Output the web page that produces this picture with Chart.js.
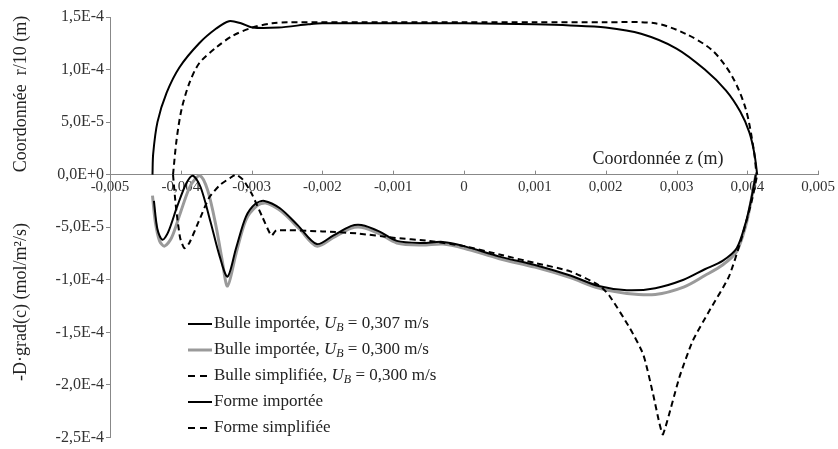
<!DOCTYPE html>
<html>
<head>
<meta charset="utf-8">
<script src="https://cdn.jsdelivr.net/npm/chart.js@4"></script>
<style>
  html, body { margin: 0; background: #fff; }
  #wrap { width: 838px; height: 449px; }
</style>
</head>
<body>
<div id="wrap"><canvas id="chart"></canvas></div>
<script>
// Données (z en m, r/10 en m, flux en mol/m²/s)

// Forme importée (contour de la bulle)
const formeImpZ = [-0.00440, -0.00439, -0.00433, -0.00420, -0.00402, -0.00374, -0.00350, -0.00332, -0.00315, -0.00299, -0.00262, -0.00220, -0.00200, -0.00100, 0, 0.00100, 0.00150, 0.00200, 0.00250, 0.00300, 0.00340, 0.00370, 0.00390, 0.00403, 0.00410, 0.00414];
const formeImpR = [0, 2.0e-5, 5.0e-5, 7.8e-5, 1.02e-4, 1.25e-4, 1.39e-4, 1.46e-4, 1.44e-4, 1.40e-4, 1.40e-4, 1.43e-4, 1.44e-4, 1.44e-4, 1.44e-4, 1.43e-4, 1.42e-4, 1.40e-4, 1.34e-4, 1.20e-4, 1.00e-4, 8.0e-5, 6.0e-5, 4.0e-5, 2.0e-5, 0];

// Forme simplifiée
const formeSimpZ = [-0.00411, -0.00406, -0.00399, -0.00388, -0.00374, -0.00350, -0.00327, -0.00299, -0.00271, -0.00250, -0.00100, 0, 0.00100, 0.00200, 0.00270, 0.00313, 0.00351, 0.00379, 0.00398, 0.00409, 0.00413];
const formeSimpR = [0, 3.3e-5, 6.2e-5, 8.7e-5, 1.06e-4, 1.21e-4, 1.32e-4, 1.40e-4, 1.44e-4, 1.45e-4, 1.45e-4, 1.45e-4, 1.45e-4, 1.45e-4, 1.44e-4, 1.34e-4, 1.18e-4, 9.3e-5, 6.2e-5, 2.4e-5, 0];

// Bulle importée, UB = 0,307 m/s
const bulle307Z = [-0.00438, -0.00433, -0.00426, -0.00418, -0.00405, -0.00392, -0.00383, -0.00372, -0.00358, -0.00345, -0.00334, -0.00322, -0.00308, -0.00295, -0.00282, -0.00260, -0.00235, -0.00208, -0.00185, -0.00160, -0.00145, -0.00120, -0.00095, -0.00060, -0.00030, 0, 0.00050, 0.00100, 0.00150, 0.00190, 0.00230, 0.00270, 0.00310, 0.00340, 0.00365, 0.00385, 0.00398, 0.00405, 0.00412];
const bulle307F = [-2.5e-5, -5.2e-5, -6.2e-5, -5.5e-5, -3.0e-5, -8e-6, -1e-6, -1.2e-5, -4.5e-5, -7.8e-5, -9.7e-5, -7.0e-5, -4.0e-5, -2.8e-5, -2.5e-5, -3.2e-5, -4.8e-5, -6.6e-5, -5.8e-5, -4.9e-5, -4.8e-5, -5.4e-5, -6.3e-5, -6.5e-5, -6.4e-5, -6.8e-5, -7.8e-5, -8.6e-5, -9.6e-5, -1.06e-4, -1.10e-4, -1.08e-4, -1.00e-4, -9.0e-5, -8.2e-5, -7.0e-5, -4.5e-5, -2.5e-5, 0];

// Bulle importée, UB = 0,300 m/s
const bulle300Z = [-0.00440, -0.00436, -0.00430, -0.00423, -0.00413, -0.00400, -0.00386, -0.00373, -0.00362, -0.00350, -0.00342, -0.00334, -0.00322, -0.00308, -0.00293, -0.00280, -0.00258, -0.00232, -0.00208, -0.00185, -0.00160, -0.00145, -0.00120, -0.00095, -0.00060, -0.00030, 0, 0.00050, 0.00100, 0.00150, 0.00190, 0.00230, 0.00270, 0.00310, 0.00340, 0.00365, 0.00385, 0.00398, 0.00405, 0.00412];
const bulle300F = [-2.0e-5, -4.5e-5, -6.3e-5, -6.8e-5, -6.0e-5, -3.5e-5, -1.0e-5, -1e-6, -1.5e-5, -5.0e-5, -8.0e-5, -1.06e-4, -7.5e-5, -4.3e-5, -3.0e-5, -2.7e-5, -3.5e-5, -5.2e-5, -6.8e-5, -6.0e-5, -5.1e-5, -5.0e-5, -5.6e-5, -6.5e-5, -6.7e-5, -6.6e-5, -7.0e-5, -8.0e-5, -8.8e-5, -9.8e-5, -1.08e-4, -1.13e-4, -1.14e-4, -1.07e-4, -9.6e-5, -8.6e-5, -7.3e-5, -4.8e-5, -2.6e-5, 0];

// Bulle simplifiée, UB = 0,300 m/s
const bulleSimpZ = [-0.00411, -0.00407, -0.00401, -0.00395, -0.00388, -0.00375, -0.00360, -0.00345, -0.00330, -0.00322, -0.00312, -0.00300, -0.00285, -0.00272, -0.00265, -0.00200, -0.00150, -0.00100, -0.00050, 0, 0.00050, 0.00100, 0.00150, 0.00190, 0.00205, 0.00234, 0.00253, 0.00267, 0.00276, 0.00281, 0.00304, 0.00323, 0.00346, 0.00374, 0.00393, 0.00407, 0.00414];
const bulleSimpF = [0, -3.0e-5, -6.0e-5, -7.0e-5, -6.5e-5, -4.5e-5, -2.2e-5, -1.0e-5, -3e-6, 0, -5e-6, -1.8e-5, -4.0e-5, -5.8e-5, -5.3e-5, -5.4e-5, -5.6e-5, -6.0e-5, -6.3e-5, -6.8e-5, -7.6e-5, -8.4e-5, -9.2e-5, -1.05e-4, -1.15e-4, -1.46e-4, -1.71e-4, -2.09e-4, -2.37e-4, -2.47e-4, -1.93e-4, -1.58e-4, -1.30e-4, -9.7e-5, -5.8e-5, -2.3e-5, 0];

const legendNames = ['Bulle importée, ', 'Bulle importée, ', 'Bulle simplifiée, ', 'Forme importée', 'Forme simplifiée'];
const legendUB = ['0,307', '0,300', '0,300', null, null];

const xTitle = 'Coordonnée z (m)';
const yTitleTop = 'Coordonnée  r/10 (m)';
const yTitleBottom = '-D·grad(c) (mol/m²/s)';

const FONT = '"Liberation Serif", "Times New Roman", serif';

function pts(xs, ys) {
    return xs.map((x, i) => ({ x: x, y: ys[i] }));
}

function fmtY(v) {
    return v.toExponential(1).replace('.', ',').replace('e', 'E');
}

function fmtX(v) {
    if (Math.abs(v) < 1e-9) return '0';
    return String(+v.toFixed(3)).replace('.', ',');
}

// styles des 5 séries, dans l'ordre de la légende
const styles = [
    { color: '#000', width: 2, dash: [], tension: 0.3 },
    { color: '#9a9a9a', width: 3, dash: [], tension: 0.3 },
    { color: '#000', width: 2, dash: [6, 4], tension: 0.2 },
    { color: '#000', width: 2, dash: [], tension: 0.3 },
    { color: '#000', width: 2, dash: [6, 4], tension: 0.3 }
];

// titres d'axes + petites graduations vers le haut
const decorPlugin = {
    id: 'decor',
    afterDraw(chart) {
        const ctx = chart.ctx;
        const xs = chart.scales.x, ys = chart.scales.y;
        const y0 = ys.getPixelForValue(0);
        ctx.save();
        ctx.strokeStyle = '#888';
        ctx.lineWidth = 1;
        xs.ticks.forEach(t => {
            const px = Math.round(xs.getPixelForValue(t.value)) + 0.5;
            ctx.beginPath();
            ctx.moveTo(px, y0);
            ctx.lineTo(px, y0 - 4);
            ctx.stroke();
        });

        ctx.fillStyle = '#222';
        ctx.font = '18px ' + FONT;
        ctx.textAlign = 'center';
        ctx.textBaseline = 'middle';
        ctx.fillText(xTitle, 658, y0 - 15);

        ctx.translate(21, 0);
        ctx.rotate(-Math.PI / 2);
        ctx.fillText(yTitleTop, -94, 0);
        ctx.fillText(yTitleBottom, -302, 0);
        ctx.restore();
    }
};

// légende dessinée à la main (indice B en italique)
const legendPlugin = {
    id: 'legendBox',
    afterDraw(chart) {
        const ctx = chart.ctx;
        const lx = 188, ly = 324, row = 26;
        ctx.save();
        ctx.textBaseline = 'middle';
        ctx.fillStyle = '#222';
        legendNames.forEach((name, i) => {
            const y = ly + i * row;
            const st = styles[i];
            ctx.strokeStyle = st.color;
            ctx.lineWidth = st.width;
            ctx.setLineDash(st.dash.length ? [7, 5] : []);
            ctx.beginPath();
            ctx.moveTo(lx, y);
            ctx.lineTo(lx + 24, y);
            ctx.stroke();
            ctx.setLineDash([]);

            let x = lx + 26;
            ctx.font = '17px ' + FONT;
            ctx.fillText(name, x, y);
            if (legendUB[i]) {
                x += ctx.measureText(name).width;
                ctx.font = 'italic 17px ' + FONT;
                ctx.fillText('U', x, y);
                x += ctx.measureText('U').width;
                ctx.font = 'italic 12px ' + FONT;
                ctx.fillText('B', x, y + 4);
                x += ctx.measureText('B').width;
                ctx.font = '17px ' + FONT;
                ctx.fillText(' = ' + legendUB[i] + ' m/s', x, y);
            }
        });
        ctx.restore();
    }
};

const seriesData = [
    pts(bulle307Z, bulle307F),
    pts(bulle300Z, bulle300F),
    pts(bulleSimpZ, bulleSimpF),
    pts(formeImpZ, formeImpR),
    pts(formeSimpZ, formeSimpR)
];

const datasets = seriesData.map((d, i) => ({
    label: legendNames[i] + (legendUB[i] ? 'UB = ' + legendUB[i] + ' m/s' : ''),
    data: d,
    showLine: true,
    borderColor: styles[i].color,
    borderWidth: styles[i].width,
    borderDash: styles[i].dash,
    pointRadius: 0,
    tension: styles[i].tension,
    fill: false,
    order: i === 1 ? 10 : 1
}));

const ctx = document.getElementById('chart').getContext('2d');
new Chart(ctx, {
    type: 'scatter',
    data: { datasets: datasets },
    options: {
        responsive: true,
        maintainAspectRatio: false,
        animation: false,
        layout: { padding: { left: 0, right: 15, top: 17, bottom: 8 } },
        plugins: {
            legend: { display: false },
            tooltip: { enabled: false }
        },
        scales: {
            x: {
                type: 'linear',
                min: -0.005,
                max: 0.005,
                position: { y: 0 },
                afterFit: s => { s.height = 0; },
                grid: { display: true, drawOnChartArea: false, drawTicks: false },
                border: { display: true, color: '#888', width: 1 },
                ticks: {
                    stepSize: 0.001,
                    padding: 3,
                    color: '#333',
                    font: { family: FONT, size: 15 },
                    maxRotation: 0,
                    callback: v => fmtX(v)
                }
            },
            y: {
                type: 'linear',
                min: -2.5e-4,
                max: 1.5e-4,
                afterFit: s => { s.width = 110; },
                grid: { display: true, drawOnChartArea: false, drawTicks: true, tickLength: 4, color: '#888' },
                border: { display: true, color: '#888', width: 1 },
                ticks: {
                    stepSize: 5e-5,
                    padding: 2,
                    color: '#333',
                    font: { family: FONT, size: 16 },
                    callback: v => fmtY(v)
                }
            }
        }
    },
    plugins: [decorPlugin, legendPlugin]
});
</script>
</body>
</html>
